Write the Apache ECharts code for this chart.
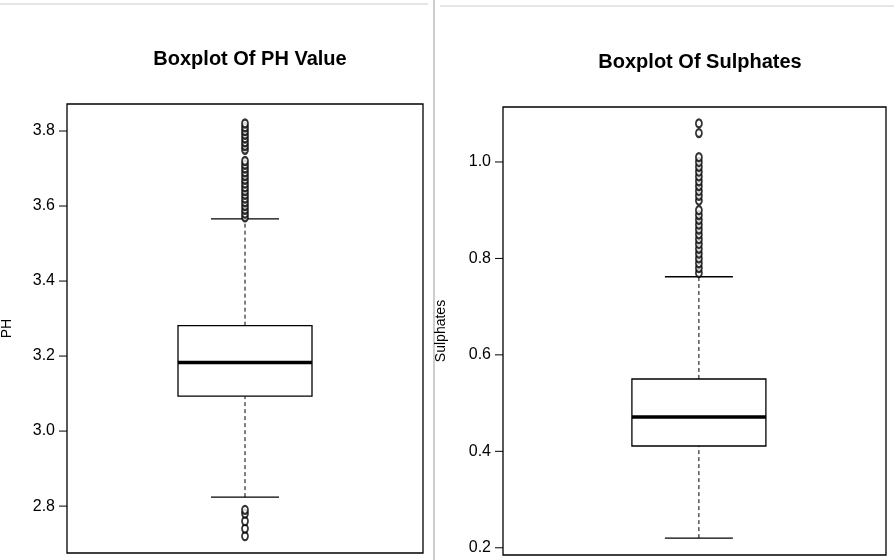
<!DOCTYPE html>
<html>
<head>
<meta charset="utf-8">
<script src="https://cdn.jsdelivr.net/npm/echarts@6/dist/echarts.min.js"></script>
<style>html,body{margin:0;background:#fff}#main{width:894px;height:560px}</style>
</head>
<body>
<div id="main"></div>
<script>
// five-number summaries: [lowerWhisker, q1, median, q3, upperWhisker]
const phStats = [2.824, 3.093, 3.183, 3.281, 3.566]
const phOutliers = [2.72, 2.74, 2.76, 2.78, 2.79, 3.57, 3.58, 3.59, 3.60, 3.61, 3.62, 3.63, 3.64,
  3.65, 3.66, 3.67, 3.68, 3.69, 3.70, 3.71, 3.72, 3.75, 3.76, 3.77, 3.78, 3.79, 3.80, 3.81, 3.82]
const phTicks = [2.8, 3.0, 3.2, 3.4, 3.6, 3.8]

const sulStats = [0.22, 0.411, 0.471, 0.55, 0.762]
const sulOutliers = [0.77, 0.78, 0.79, 0.80, 0.81, 0.82, 0.83, 0.84, 0.85, 0.86, 0.87, 0.88, 0.89,
  0.90, 0.92, 0.93, 0.94, 0.95, 0.96, 0.97, 0.98, 0.99, 1.00, 1.01, 1.06, 1.08]
const sulTicks = [0.2, 0.4, 0.6, 0.8, 1.0]

const font = '"Liberation Sans Narrow", "Liberation Sans", sans-serif'
const myChart = echarts.init(document.getElementById('main'))

function boxItem(params, api) {
  const s = [api.value(1), api.value(2), api.value(3), api.value(4), api.value(5)]
  const p = s.map(v => api.coord([0, v]))
  const x = p[0][0], half = 67, cap = 34
  const line = (x1, y1, x2, y2, extra) => ({
    type: 'line', shape: { x1, y1, x2, y2 },
    style: Object.assign({ stroke: '#000', lineWidth: 1.3 }, extra || {})
  })
  return {
    type: 'group', children: [
      line(x, p[0][1], x, p[1][1], { lineDash: [4, 3], lineWidth: 1 }),
      line(x, p[3][1], x, p[4][1], { lineDash: [4, 3], lineWidth: 1 }),
      line(x - cap, p[0][1], x + cap, p[0][1]),
      line(x - cap, p[4][1], x + cap, p[4][1]),
      { type: 'rect', shape: { x: x - half, y: p[3][1], width: half * 2, height: p[1][1] - p[3][1] },
        style: { fill: '#fff', stroke: '#000', lineWidth: 1.3 } },
      line(x - half, p[2][1], x + half, p[2][1], { lineWidth: 3.5 })
    ]
  }
}

function yAxis(idx, min, max, name, gap) {
  return {
    gridIndex: idx, type: 'value', min, max,
    name, nameLocation: 'middle', nameGap: gap,
    nameTextStyle: { fontFamily: 'Liberation Sans, sans-serif', fontSize: 14, color: '#000' },
    axisLine: { show: false }, splitLine: { show: false },
    axisTick: { show: false }, axisLabel: { show: false }
  }
}

function tickSeries(idx, ticks) {
  // axis ticks and labels drawn at tick values
  return {
    type: 'custom', xAxisIndex: idx, yAxisIndex: idx, data: ticks.map(t => [0, t]),
    renderItem: (params, api) => {
      const p = api.coord([0, api.value(1)])
      const left = params.coordSys.x
      return {
        type: 'group', children: [
          { type: 'line', shape: { x1: left - 8, y1: p[1], x2: left, y2: p[1] }, style: { stroke: '#000', lineWidth: 1 } },
          { type: 'text', style: { text: api.value(1).toFixed(1), x: left - 12, y: p[1], align: 'right', verticalAlign: 'middle',
            fontFamily: font, fontSize: 16, fill: '#000' } }
        ]
      }
    }
  }
}

myChart.setOption({
  animation: false,
  title: [
    { text: 'Boxplot Of PH Value', left: 245, top: 44, textAlign: 'center',
      textStyle: { fontFamily: font, fontSize: 20, fontWeight: 'bold', color: '#000' } },
    { text: 'Boxplot Of Sulphates', left: 695, top: 47, textAlign: 'center',
      textStyle: { fontFamily: font, fontSize: 20, fontWeight: 'bold', color: '#000' } }
  ],
  grid: [
    { left: 67, top: 104, width: 356, height: 449, outerBoundsMode: 'none', show: true, borderColor: '#000', borderWidth: 1.3, backgroundColor: 'transparent' },
    { left: 503, top: 107, width: 383, height: 448, outerBoundsMode: 'none', show: true, borderColor: '#000', borderWidth: 1.3, backgroundColor: 'transparent' }
  ],
  xAxis: [
    { gridIndex: 0, type: 'value', min: -1, max: 1, show: false },
    { gridIndex: 1, type: 'value', min: -1.023, max: 0.977, show: false }
  ],
  yAxis: [
    yAxis(0, 2.675, 3.872, 'PH', 53),
    yAxis(1, 0.185, 1.114, 'Sulphates', 55)
  ],
  graphic: [
    { type: 'line', shape: { x1: 434, y1: 0, x2: 434, y2: 560 }, style: { stroke: '#ccc', lineWidth: 2 } },
    { type: 'line', shape: { x1: 0, y1: 4, x2: 428, y2: 4 }, style: { stroke: '#ccc', lineWidth: 1 } },
    { type: 'line', shape: { x1: 440, y1: 6, x2: 894, y2: 6 }, style: { stroke: '#ccc', lineWidth: 1 } }
  ],
  series: [
    { type: 'custom', xAxisIndex: 0, yAxisIndex: 0, renderItem: boxItem, data: [[0].concat(phStats)] },
    { type: 'scatter', xAxisIndex: 0, yAxisIndex: 0, symbol: 'emptyCircle', symbolSize: [6, 8],
      itemStyle: { color: '#000', borderColor: '#000', borderWidth: 0.8 }, data: phOutliers.map(v => [0, v]) },
    tickSeries(0, phTicks),
    { type: 'custom', xAxisIndex: 1, yAxisIndex: 1, renderItem: boxItem, data: [[0].concat(sulStats)] },
    { type: 'scatter', xAxisIndex: 1, yAxisIndex: 1, symbol: 'emptyCircle', symbolSize: [6, 8],
      itemStyle: { color: '#000', borderColor: '#000', borderWidth: 0.8 }, data: sulOutliers.map(v => [0, v]) },
    tickSeries(1, sulTicks)
  ]
})
</script>
</body>
</html>
